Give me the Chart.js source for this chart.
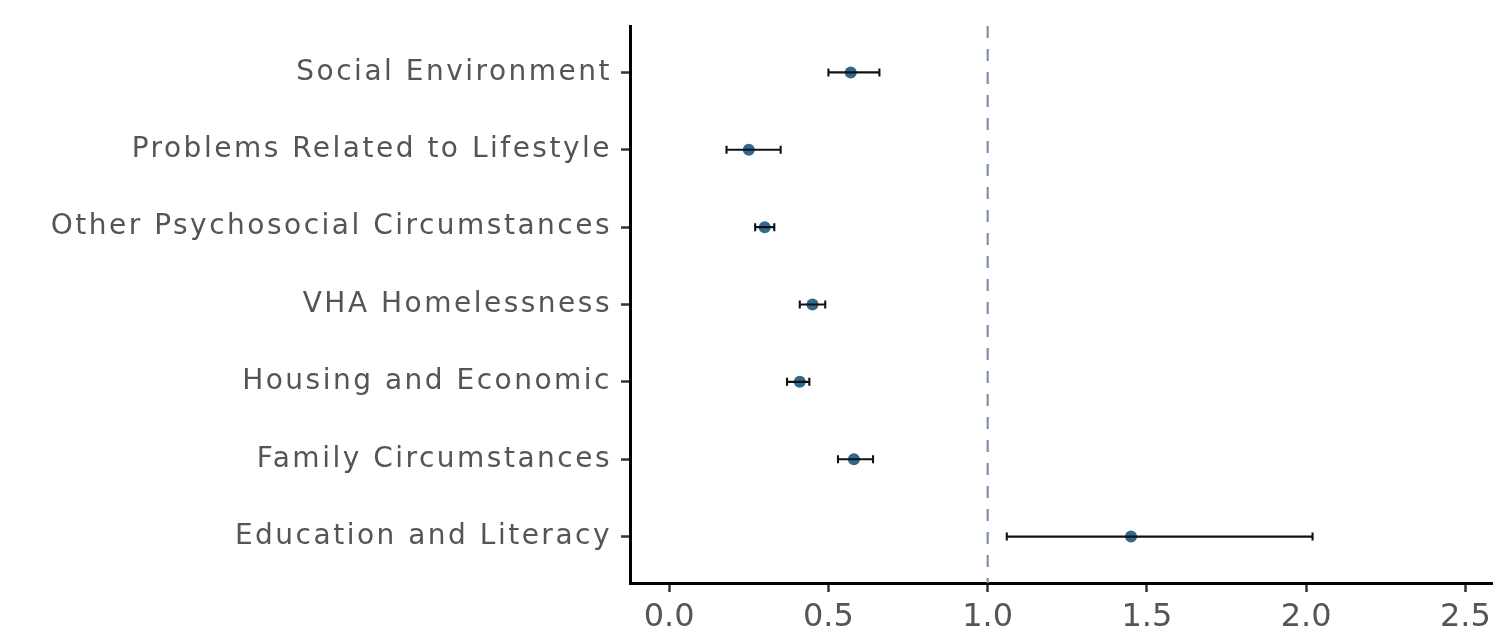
<!DOCTYPE html>
<html>
<head>
<meta charset="utf-8">
<script src="https://cdn.jsdelivr.net/npm/chart.js@4.4.1/dist/chart.umd.min.js"></script>
<style>
  html, body { margin: 0; padding: 0; background: #fff; overflow: hidden; }
  #wrap { width: 1560px; height: 634px; }
</style>
</head>
<body>
<div id="wrap"><canvas id="forest" width="1560" height="634"></canvas></div>
<script>
// Odds ratios with 95% confidence intervals, one row per domain (top to bottom)
const categories = [
  'Social Environment',
  'Problems Related to Lifestyle',
  'Other Psychosocial Circumstances',
  'VHA Homelessness',
  'Housing and Economic',
  'Family Circumstances',
  'Education and Literacy'
];
const estimates = [0.57, 0.25, 0.30, 0.45, 0.41, 0.58, 1.45];
const lowerCI   = [0.50, 0.18, 0.27, 0.41, 0.37, 0.53, 1.06];
const upperCI   = [0.66, 0.35, 0.33, 0.49, 0.44, 0.64, 2.02];
const xTicks = [0, 0.5, 1.0, 1.5, 2.0, 2.5];
const referenceValue = 1;

const labelColor = '#555555';
const pointColor = '#31688E';

// Dashed vertical line at the null value
const referenceLine = {
  id: 'referenceLine',
  beforeDatasetsDraw(chart) {
    const { ctx, chartArea, scales } = chart;
    const x = scales.x.getPixelForValue(referenceValue);
    ctx.save();
    ctx.strokeStyle = '#7f90b0';
    ctx.lineWidth = 2.2;
    ctx.setLineDash([12, 11]);
    ctx.beginPath();
    ctx.moveTo(x, chartArea.top);
    ctx.lineTo(x, chartArea.bottom);
    ctx.stroke();
    ctx.restore();
  }
};

// Horizontal confidence-interval whiskers with end caps
const errorBars = {
  id: 'errorBars',
  afterDatasetsDraw(chart) {
    const { ctx, scales } = chart;
    const cap = 4;
    ctx.save();
    ctx.strokeStyle = '#111';
    ctx.lineWidth = 2.1;
    categories.forEach((_, i) => {
      const y = scales.y.getPixelForValue(i + 1);
      const x1 = scales.x.getPixelForValue(lowerCI[i]);
      const x2 = scales.x.getPixelForValue(upperCI[i]);
      ctx.beginPath();
      ctx.moveTo(x1, y); ctx.lineTo(x2, y);
      ctx.moveTo(x1, y - cap); ctx.lineTo(x1, y + cap);
      ctx.moveTo(x2, y - cap); ctx.lineTo(x2, y + cap);
      ctx.stroke();
    });
    ctx.restore();
  }
};

// Slightly wider tracking for the category labels
const labelTracking = {
  id: 'labelTracking',
  afterLayout(chart) {
    const yScale = chart.scales.y;
    if (yScale._tracked) return;
    const orig = yScale.drawLabels;
    yScale.drawLabels = function (area) {
      const ctx = this.ctx;
      ctx.save();
      ctx.letterSpacing = '2.5px';
      orig.call(this, area);
      ctx.restore();
    };
    yScale._tracked = true;
  }
};

new Chart(document.getElementById('forest'), {
  type: 'scatter',
  data: {
    datasets: [{
      data: categories.map((c, i) => ({ x: estimates[i], y: i + 1 })),
      backgroundColor: pointColor,
      borderWidth: 0,
      pointRadius: 6,
      pointHoverRadius: 6
    }]
  },
  options: {
    responsive: false,
    animation: false,
    events: [],
    layout: { padding: { top: 26, left: 0, right: 0, bottom: 0 } },
    plugins: { legend: { display: false }, tooltip: { enabled: false } },
    scales: {
      x: {
        type: 'linear',
        min: -0.123,
        max: 2.778,
        afterBuildTicks(scale) { scale.ticks = xTicks.map(v => ({ value: v })); },
        afterFit(scale) { scale.height = 51; },
        grid: { drawOnChartArea: false, drawTicks: true, tickLength: 9, tickWidth: 2.5, tickColor: '#333' },
        border: { display: true, color: '#000', width: 3 },
        ticks: {
          padding: 6,
          color: labelColor,
          font: { family: 'DejaVu Sans', size: 32 },
          callback: v => Number(v).toFixed(1),
          maxRotation: 0
        }
      },
      y: {
        type: 'linear',
        reverse: true,
        min: 0.4,
        max: 7.6,
        afterBuildTicks(scale) { scale.ticks = categories.map((c, i) => ({ value: i + 1 })); },
        afterFit(scale) { scale.width = 630; },
        grid: { drawOnChartArea: false, drawTicks: true, tickLength: 9, tickWidth: 2.5, tickColor: '#333' },
        border: { display: true, color: '#000', width: 3 },
        ticks: {
          padding: 9,
          color: labelColor,
          font: { family: 'DejaVu Sans', size: 28 },
          callback: v => categories[v - 1]
        }
      }
    }
  },
  plugins: [referenceLine, errorBars, labelTracking]
});
</script>
</body>
</html>
